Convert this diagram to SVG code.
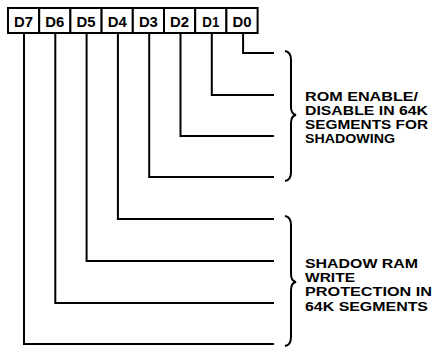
<svg xmlns="http://www.w3.org/2000/svg" width="435" height="347" viewBox="0 0 435 347">
<style>
.box{fill:#fff;stroke:#000;stroke-width:2}
.bl{font-family:"Liberation Sans",Arial,sans-serif;font-weight:bold;font-size:14px;fill:#000;text-anchor:middle}
.conn path{fill:none;stroke:#000;stroke-width:2}
.brace{fill:none;stroke:#000;stroke-width:2}
.lab{font-family:"Liberation Sans",Arial,sans-serif;font-weight:bold;font-size:13px;fill:#000}
</style>
<rect width="435" height="347" fill="#fff"/>
<g id="bits">
<g id="D7"><rect class="box" x="8" y="8" width="31.2" height="25"/><text class="bl" x="23.6" y="26.5" textLength="19" lengthAdjust="spacingAndGlyphs">D7</text></g>
<g id="D6"><rect class="box" x="39.2" y="8" width="31.2" height="25"/><text class="bl" x="54.8" y="26.5" textLength="19" lengthAdjust="spacingAndGlyphs">D6</text></g>
<g id="D5"><rect class="box" x="70.4" y="8" width="31.2" height="25"/><text class="bl" x="86" y="26.5" textLength="19" lengthAdjust="spacingAndGlyphs">D5</text></g>
<g id="D4"><rect class="box" x="101.6" y="8" width="31.2" height="25"/><text class="bl" x="117.2" y="26.5" textLength="19" lengthAdjust="spacingAndGlyphs">D4</text></g>
<g id="D3"><rect class="box" x="132.8" y="8" width="31.2" height="25"/><text class="bl" x="148.4" y="26.5" textLength="19" lengthAdjust="spacingAndGlyphs">D3</text></g>
<g id="D2"><rect class="box" x="164" y="8" width="31.2" height="25"/><text class="bl" x="179.6" y="26.5" textLength="19" lengthAdjust="spacingAndGlyphs">D2</text></g>
<g id="D1"><rect class="box" x="195.2" y="8" width="31.2" height="25"/><text class="bl" x="210.8" y="26.5" textLength="17" lengthAdjust="spacingAndGlyphs">D1</text></g>
<g id="D0"><rect class="box" x="226.4" y="8" width="31.2" height="25"/><text class="bl" x="242" y="26.5" textLength="19" lengthAdjust="spacingAndGlyphs">D0</text></g>
</g>
<g id="connectors" class="conn">
<path d="M243.1,33 V53 H274"/>
<path d="M211.8,33 V95 H274"/>
<path d="M180.5,33 V136 H274"/>
<path d="M149.2,33 V177 H274"/>
<path d="M117.9,33 V219 H274"/>
<path d="M86.6,33 V261 H274"/>
<path d="M55.3,33 V303 H274"/>
<path d="M24,33 V344 H274"/>
</g>
<g id="rom-group">
<path class="brace" d="M285,51 Q291,52 291,60 L291,107 Q291,114 296,115 Q291,116 291,123 L291,172 Q291,180 285,181"/>
<text class="lab" x="305" y="101" textLength="113" lengthAdjust="spacingAndGlyphs">ROM ENABLE/</text>
<text class="lab" x="305" y="115" textLength="123" lengthAdjust="spacingAndGlyphs">DISABLE IN 64K</text>
<text class="lab" x="305" y="129" textLength="123" lengthAdjust="spacingAndGlyphs">SEGMENTS FOR</text>
<text class="lab" x="305" y="143" textLength="90" lengthAdjust="spacingAndGlyphs">SHADOWING</text>
</g>
<g id="ram-group">
<path class="brace" d="M285,216 Q291,217 291,225 L291,274 Q291,281 296,282 Q291,283 291,290 L291,337 Q291,345 285,346"/>
<text class="lab" x="305" y="267.5" textLength="113" lengthAdjust="spacingAndGlyphs">SHADOW RAM</text>
<text class="lab" x="305" y="281.5" textLength="50" lengthAdjust="spacingAndGlyphs">WRITE</text>
<text class="lab" x="305" y="296" textLength="127" lengthAdjust="spacingAndGlyphs">PROTECTION IN</text>
<text class="lab" x="305" y="310.5" textLength="123" lengthAdjust="spacingAndGlyphs">64K SEGMENTS</text>
</g>
</svg>
